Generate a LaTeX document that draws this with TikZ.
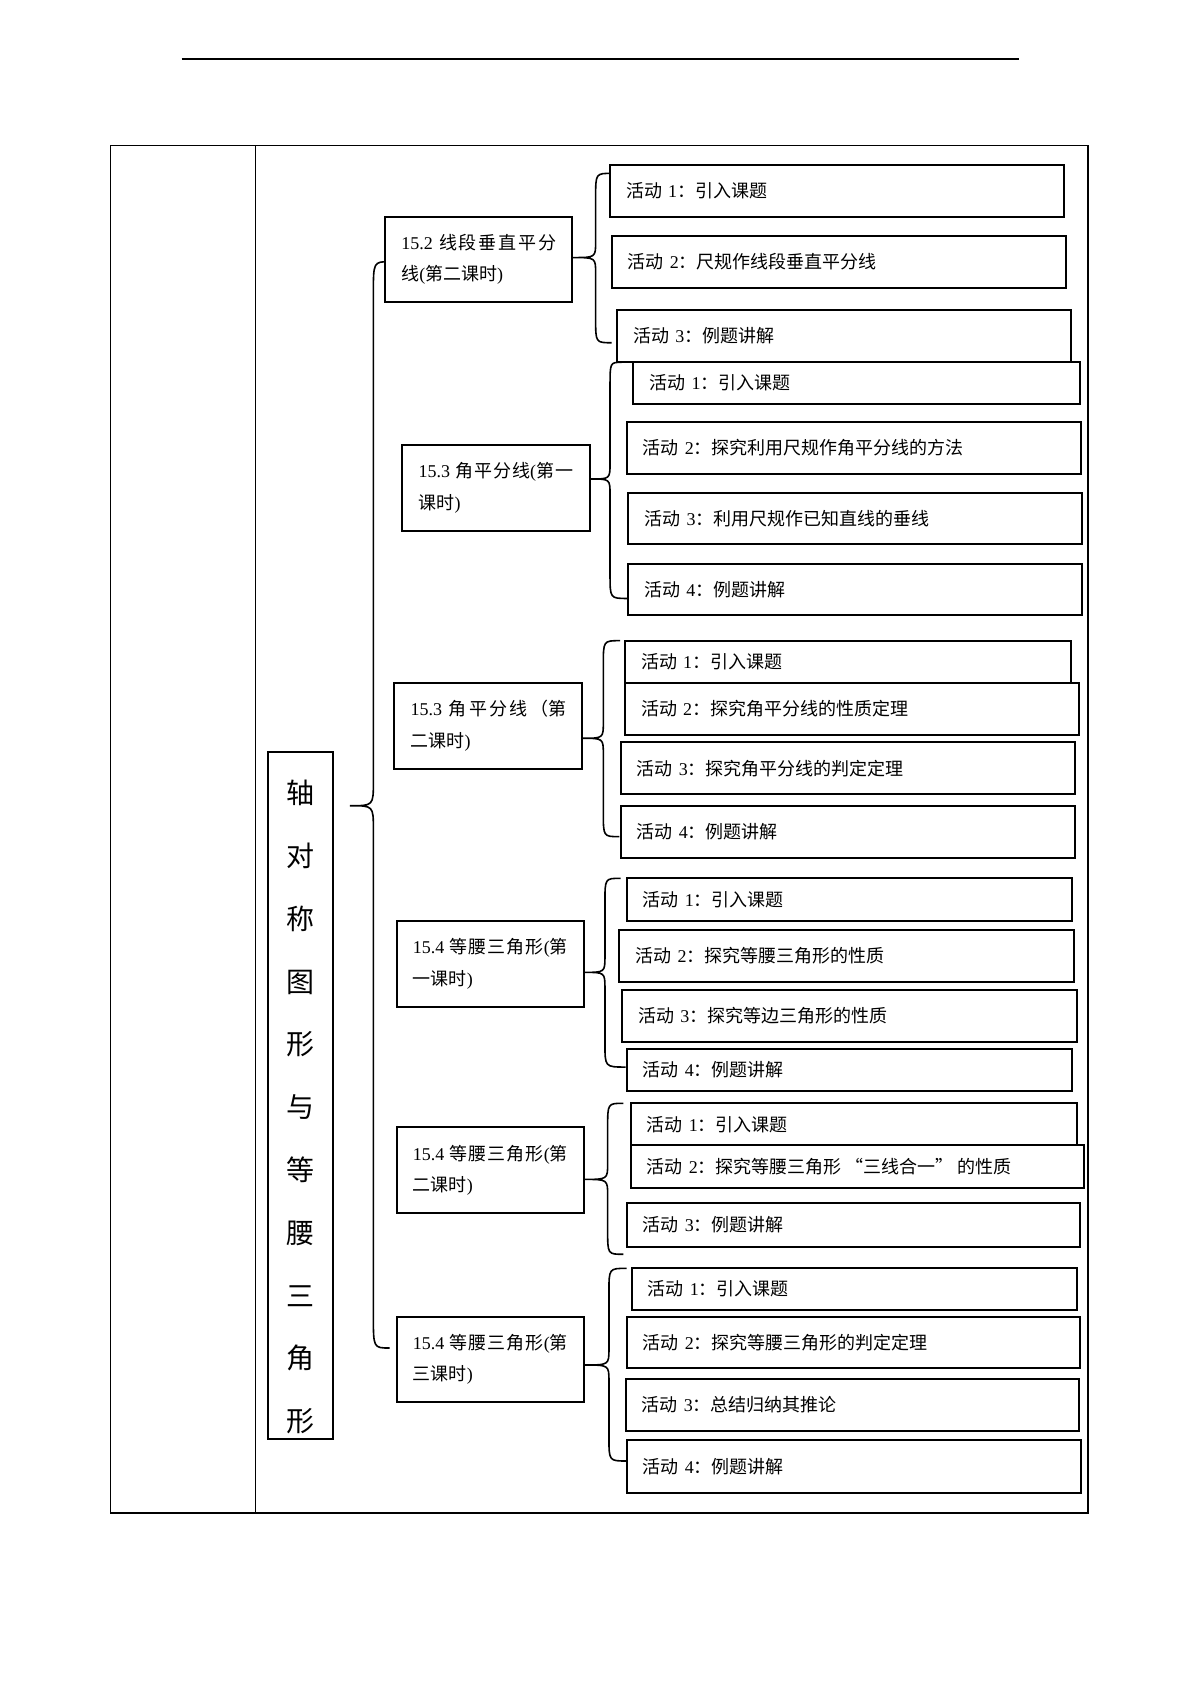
\documentclass[tikz,border=0pt]{standalone}
\usepackage{fontspec}
\setmainfont{Liberation Serif}
\newfontfamily\zh{Noto Sans CJK SC}
\newcommand\LP{{\rmfamily(}}
\newcommand\RP{{\rmfamily)}}
\newcommand\act[2]{{\zh 活动}~#1{\zh ：#2}}
\tikzset{
  actbox/.style={draw, fill=white, line width=1pt, inner xsep=8.1pt, inner ysep=0pt, align=left, font=\fontsize{9}{12}\selectfont},
  grpbox/.style={draw, fill=white, line width=1pt, inner xsep=8.1pt, inner ysep=0pt, align=left, font=\fontsize{9}{15.7}\selectfont},
  titlebox/.style={draw, line width=1pt, inner sep=0pt},
  titletext/.style={align=center, inner sep=0pt, font=\zh\fontsize{14}{31.4}\selectfont},
  bracepath/.style={line width=0.8pt},
  tableline/.style={line width=0.75pt},
  rulerline/.style={line width=1.3pt}
}
% activity box: name, x1, y1, x2, y2, text
\newcommand\abox[6]{%
  \pgfmathsetmacro\abw{(#4-#2)*0.5411}%
  \pgfmathsetmacro\abh{(#5-#3)*0.5411}%
  \pgfmathsetmacro\atw{\abw-16.2}%
  \node[actbox, minimum width=\abw pt, minimum height=\abh pt, text width=\atw pt] (#1) at ({(#2+#4)/2},{(#3+#5)/2}) {#6};}
% group box: name, x1, y1, x2, y2, line1, line2
\newcommand\gbox[7]{%
  \pgfmathsetmacro\abw{(#4-#2)*0.5411}%
  \pgfmathsetmacro\abh{(#5-#3)*0.5411}%
  \pgfmathsetmacro\atw{\abw-16.2}%
  \node[grpbox, minimum width=\abw pt, minimum height=\abh pt] (#1) at ({(#2+#4)/2},{(#3+#5)/2}) {\hbox to \atw pt{#6}\\#7};}
% brace: xv, tipx, tipy, topx, topy, botx, boty, end radius, tip radius
\newcommand\brc[9]{%
  \draw[bracepath] (#4,#5) .. controls (#1,#5) .. (#1,#5+#8) -- (#1,#3-#9)
    .. controls (#1,#3) .. (#2,#3) .. controls (#1,#3) .. (#1,#3+#9)
    -- (#1,#7-#8) .. controls (#1,#7) .. (#6,#7);}
\begin{document}
\begin{tikzpicture}[x=0.5411pt, y=-0.5411pt]
\useasboundingbox (0,0) rectangle (1108.9,1568.1);
% header rule
\coordinate (rl) at (167.9,54.5);
\coordinate (rr) at (942,54.5);
\draw[rulerline] (rl) -- (rr);
% table
\draw[tableline] (102.3,134.6) rectangle (1005.4,1398);
\draw[tableline] (236.3,134.6) -- (236.3,1398);
% title
\node[titlebox, minimum width=32.5pt, minimum height=343.6pt] (title) at (278,1012.5) {};
\node[titletext] (ttl) at (278,1023) {轴\\对\\称\\图\\形\\与\\等\\腰\\三\\角\\形};
% main brace
\brc{345}{323.4}{744.5}{360.4}{241.8}{360}{1245.6}{30}{22}
% group braces
\brc{550.4}{529.5}{238}{565.2}{160.2}{565.2}{316.7}{22}{15}
\brc{563.7}{545.8}{442.6}{574.4}{334.8}{580}{553}{22}{15}
\brc{557.5}{538}{682.2}{573}{592}{572.3}{773.1}{22}{15}
\brc{559}{539.6}{898.5}{573.5}{811.6}{578}{986}{22}{15}
\brc{561.5}{539.6}{1089.8}{576}{1019.5}{576}{1159}{22}{15}
\brc{562.7}{539.6}{1261.3}{579}{1172}{579}{1350}{22}{15}
% group boxes
\gbox{g1}{355.8}{200.2}{528.8}{279.3}{15.2\ \hfill{\zh 线}\hfill{\zh 段}\hfill{\zh 垂}\hfill{\zh 直}\hfill{\zh 平}\hfill{\zh 分}}{{\zh 线}\LP{\zh 第二课时}\RP}
\gbox{g2}{371.8}{411.2}{545.2}{490.4}{15.3\ \hfill{\zh 角}\hfill{\zh 平}\hfill{\zh 分}\hfill{\zh 线}\LP\hfill{\zh 第}\hfill{\zh 一}}{{\zh 课时}\RP}
\gbox{g3}{364.4}{630.8}{538}{710.6}{15.3\ \hfill{\zh 角}\hfill{\zh 平}\hfill{\zh 分}\hfill{\zh 线}\hfill{\zh （第}}{{\zh 二课时}\RP}
\gbox{g4}{366.5}{851}{539.6}{930.2}{15.4\ \hfill{\zh 等}\hfill{\zh 腰}\hfill{\zh 三}\hfill{\zh 角}\hfill{\zh 形}\LP{\zh 第}}{{\zh 一课时}\RP}
\gbox{g5}{366.5}{1041.7}{539.6}{1120.6}{15.4\ \hfill{\zh 等}\hfill{\zh 腰}\hfill{\zh 三}\hfill{\zh 角}\hfill{\zh 形}\LP{\zh 第}}{{\zh 二课时}\RP}
\gbox{g6}{366.5}{1216.7}{539.6}{1295.8}{15.4\ \hfill{\zh 等}\hfill{\zh 腰}\hfill{\zh 三}\hfill{\zh 角}\hfill{\zh 形}\LP{\zh 第}}{{\zh 三课时}\RP}
% activities group 1
\abox{a11}{563.7}{152.5}{983.5}{200.2}{\act{1}{引入课题}}
\abox{a12}{565.2}{218}{984.7}{265.8}{\act{2}{尺规作线段垂直平分线}}
\abox{a13}{570.4}{286.5}{989.6}{334.5}{\act{3}{例题讲解}}
% group 2
\abox{a21}{585.2}{334.5}{998}{373.6}{\act{1}{引入课题}}
\abox{a22}{579}{389.6}{998.6}{438}{\act{2}{探究利用尺规作角平分线的方法}}
\abox{a23}{580.6}{455.6}{1000}{503}{\act{3}{利用尺规作已知直线的垂线}}
\abox{a24}{580.5}{521}{1000}{568.5}{\act{4}{例题讲解}}
% group 3
\abox{a31}{577.5}{592}{990}{631}{\act{1}{引入课题}}
\abox{a32}{577.5}{630.8}{997}{679.2}{\act{2}{探究角平分线的性质定理}}
\abox{a33}{573.5}{686}{993}{733.7}{\act{3}{探究角平分线的判定定理}}
\abox{a34}{573.5}{744.5}{993}{792.5}{\act{4}{例题讲解}}
% group 4
\abox{a41}{579}{811.6}{991}{851}{\act{1}{引入课题}}
\abox{a42}{572.3}{859.4}{992}{907.1}{\act{2}{探究等腰三角形的性质}}
\abox{a43}{575}{914.8}{995}{962.5}{\act{3}{探究等边三角形的性质}}
\abox{a44}{579}{969}{991}{1008}{\act{4}{例题讲解}}
% group 5
\abox{a51}{582.8}{1019.5}{995}{1058.6}{\act{1}{引入课题}}
\abox{a52}{582.8}{1058}{1002}{1098.1}{\act{2}{探究等腰三角形\hspace{0.2em}“三线合一”\hspace{0.2em}的性质}}
\abox{a53}{579}{1112}{998}{1152}{\act{3}{例题讲解}}
% group 6
\abox{a61}{583.7}{1172}{995}{1210.5}{\act{1}{引入课题}}
\abox{a62}{579}{1216.7}{998}{1264.4}{\act{2}{探究等腰三角形的判定定理}}
\abox{a63}{578.1}{1274.5}{997}{1322.3}{\act{3}{总结归纳其推论}}
\abox{a64}{579}{1330.6}{998.9}{1379.3}{\act{4}{例题讲解}}
\end{tikzpicture}
\end{document}
